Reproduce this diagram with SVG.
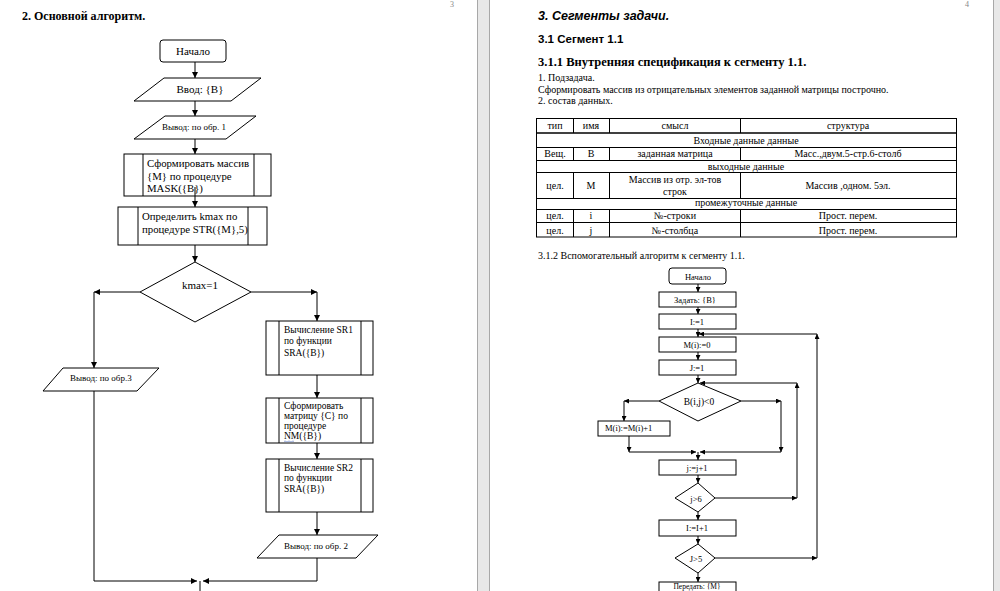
<svg xmlns="http://www.w3.org/2000/svg" width="1000" height="591" viewBox="0 0 1000 591">
<style>
.s{font-family:"Liberation Serif","Times New Roman",serif;fill:#000}
.a{font-family:"Liberation Sans",Arial,sans-serif;fill:#000}
.sh{fill:#fff;stroke:#000;stroke-width:1}
.ln{fill:none;stroke:#000;stroke-width:1}
.c{text-anchor:middle}
.pn{font-family:"Liberation Serif",serif;font-size:8px;fill:#888}
</style>
<defs>
<marker id="ah" viewBox="0 0 10 10" refX="10" refY="5" markerWidth="6" markerHeight="6" markerUnits="userSpaceOnUse" orient="auto"><path d="M0,0 L10,5 L0,10 z" fill="#000"/></marker>
<marker id="as" viewBox="0 0 10 10" refX="10" refY="5" markerWidth="5" markerHeight="5" markerUnits="userSpaceOnUse" orient="auto"><path d="M0,0 L10,5 L0,10 z" fill="#000"/></marker>
</defs>
<rect x="0" y="0" width="1000" height="591" fill="#fff"/>
<rect x="477" y="0" width="13" height="591" fill="#e8e8e8"/>
<line x1="477.5" y1="0" x2="477.5" y2="591" stroke="#a8a8a8"/>
<line x1="489.5" y1="0" x2="489.5" y2="591" stroke="#a8a8a8"/>
<rect x="993" y="0" width="7" height="591" fill="#e8e8e8"/>
<line x1="993.5" y1="0" x2="993.5" y2="591" stroke="#a8a8a8"/>
<text class="pn" x="450" y="7">3</text>
<text class="pn" x="965" y="7">4</text>

<!-- Left page -->
<text class="s" x="22" y="20" font-size="12" font-weight="bold">2. Основной алгоритм.</text>

<g id="n-start">
<rect class="sh" x="160" y="40" width="66" height="22" rx="3"/>
<text class="s c" x="193" y="55" font-size="11">Начало</text>
</g>
<g id="n-input">
<polygon class="sh" points="164,78 261,78 231,101 134,101"/>
<text class="s c" x="200" y="93" font-size="11">Ввод: {B}</text>
</g>
<g id="n-out1">
<polygon class="sh" points="165,116 256,116 226,139 134,139"/>
<text class="s c" x="194" y="130" font-size="9">Вывод: по обр. 1</text>
</g>
<g id="n-mask">
<rect class="sh" x="124" y="154" width="147" height="42"/>
<line class="ln" x1="143" y1="154" x2="143" y2="196"/>
<line class="ln" x1="254" y1="154" x2="254" y2="196"/>
<text class="s" font-size="10.8"><tspan x="147" y="167">Сформировать массив</tspan><tspan x="147" y="180">{M} по процедуре</tspan><tspan x="147" y="192">MASK({B})</tspan></text>
</g>
<g id="n-str">
<rect class="sh" x="118" y="207" width="149" height="38"/>
<line class="ln" x1="138" y1="207" x2="138" y2="245"/>
<line class="ln" x1="248" y1="207" x2="248" y2="245"/>
<text class="s" font-size="10.8"><tspan x="142" y="220">Определить kmax по</tspan><tspan x="142" y="233">процедуре STR({M},5)</tspan></text>
</g>
<g id="n-kmax">
<polygon class="sh" points="195,262 251,292 195,322 140,292"/>
<text class="s c" x="200" y="289" font-size="11">kmax=1</text>
</g>
<g id="n-out3">
<polygon class="sh" points="63,368 159,368 137,391 43,391"/>
<text class="s" x="70" y="381" font-size="9">Вывод: по обр.3</text>
</g>
<g id="n-sr1">
<rect class="sh" x="266" y="321" width="107" height="54"/>
<line class="ln" x1="279" y1="321" x2="279" y2="375"/>
<line class="ln" x1="361" y1="321" x2="361" y2="375"/>
<text class="s" font-size="9.5"><tspan x="284" y="333">Вычисление SR1</tspan><tspan x="284" y="344">по функции</tspan><tspan x="284" y="356">SRA({B})</tspan></text>
</g>
<g id="n-nm">
<rect class="sh" x="266" y="398" width="107" height="45"/>
<line class="ln" x1="279" y1="398" x2="279" y2="443"/>
<line class="ln" x1="361" y1="398" x2="361" y2="443"/>
<text class="s" font-size="9.5"><tspan x="284" y="409">Сформировать</tspan><tspan x="284" y="419">матрицу {C} по</tspan><tspan x="284" y="429">процедуре</tspan><tspan x="284" y="439">NM({B})</tspan></text>
<path d="M284,441.5 q1,-1 2,0 t2,0 t2,0 t2,0 t2,0" fill="none" stroke="#5070c0" stroke-width="0.6"/>
</g>
<g id="n-sr2">
<rect class="sh" x="266" y="459" width="107" height="53"/>
<line class="ln" x1="279" y1="459" x2="279" y2="512"/>
<line class="ln" x1="361" y1="459" x2="361" y2="512"/>
<text class="s" font-size="9.5"><tspan x="284" y="471">Вычисление SR2</tspan><tspan x="284" y="481">по функции</tspan><tspan x="284" y="492">SRA({B})</tspan></text>
</g>
<g id="n-out2">
<polygon class="sh" points="279,535 378,535 356,558 257,558"/>
<text class="s" x="284" y="549" font-size="9">Вывод: по обр. 2</text>
</g>

<g id="connectors-left" class="ln">
<path class="ln" d="M195,62 V78" marker-end="url(#ah)"/>
<path class="ln" d="M195,101 V116" marker-end="url(#ah)"/>
<path class="ln" d="M195,139 V154" marker-end="url(#ah)"/>
<path class="ln" d="M195,187 V207" marker-end="url(#ah)"/>
<path class="ln" d="M195,245 V262" marker-end="url(#ah)"/>
<path class="ln" d="M140,292 H94" marker-end="url(#ah)"/>
<path class="ln" d="M94,292 V368" marker-end="url(#ah)"/>
<path class="ln" d="M251,292 H317" marker-end="url(#ah)"/>
<path class="ln" d="M317,292 V321" marker-end="url(#ah)"/>
<path class="ln" d="M317,375 V398" marker-end="url(#ah)"/>
<path class="ln" d="M317,443 V459" marker-end="url(#ah)"/>
<path class="ln" d="M317,512 V535" marker-end="url(#ah)"/>
<path class="ln" d="M94,391 V581 H197" marker-end="url(#ah)"/>
<path class="ln" d="M317,558 V581 H203" marker-end="url(#ah)"/>
<path class="ln" d="M200,581 V591"/>
</g>

<!-- Right page -->
<text class="a" x="538" y="20" font-size="12.5" font-weight="bold" font-style="italic">3. Сегменты задачи.</text>
<text class="a" x="538" y="43" font-size="11.5" font-weight="bold">3.1 Сегмент 1.1</text>
<text class="s" x="538" y="66" font-size="12.5" font-weight="bold">3.1.1 Внутренняя спецификация к сегменту 1.1.</text>
<text class="s" x="538" y="81" font-size="10">1. Подзадача.</text>
<text class="s" x="538" y="93" font-size="10">Сформировать массив из отрицательных элементов заданной матрицы построчно.</text>
<text class="s" x="538" y="104" font-size="10">2. состав данных.</text>

<g id="table">
<rect x="536.5" y="118.5" width="420" height="118.5" fill="none" stroke="#000"/>
<g stroke="#000" stroke-width="1">
<line x1="536" y1="133" x2="957" y2="133" stroke-width="1.5"/>
<line x1="536" y1="147.5" x2="957" y2="147.5"/>
<line x1="536" y1="160.5" x2="957" y2="160.5"/>
<line x1="536" y1="172.5" x2="957" y2="172.5"/>
<line x1="536" y1="198.5" x2="957" y2="198.5"/>
<line x1="536" y1="209.5" x2="957" y2="209.5"/>
<line x1="536" y1="222.5" x2="957" y2="222.5"/>
<line x1="573.5" y1="118" x2="573.5" y2="133"/>
<line x1="609.5" y1="118" x2="609.5" y2="133"/>
<line x1="740.5" y1="118" x2="740.5" y2="133"/>
<line x1="573.5" y1="147" x2="573.5" y2="161"/>
<line x1="609.5" y1="147" x2="609.5" y2="161"/>
<line x1="740.5" y1="147" x2="740.5" y2="161"/>
<line x1="573.5" y1="172" x2="573.5" y2="199"/>
<line x1="609.5" y1="172" x2="609.5" y2="199"/>
<line x1="740.5" y1="172" x2="740.5" y2="199"/>
<line x1="573.5" y1="209" x2="573.5" y2="237"/>
<line x1="609.5" y1="209" x2="609.5" y2="237"/>
<line x1="740.5" y1="209" x2="740.5" y2="237"/>
</g>
<g class="s c" font-size="10">
<text x="555" y="129">тип</text>
<text x="591" y="129">имя</text>
<text x="675" y="129">смысл</text>
<text x="848" y="129">структура</text>
<text x="746" y="144">Входные данные данные</text>
<text x="555" y="157">Вещ.</text>
<text x="591" y="157">B</text>
<text x="675" y="157">заданная матрица</text>
<text x="848" y="157">Масс.,двум.5-стр.6-столб</text>
<text x="746" y="170">выходные данные</text>
<text x="555" y="189">цел.</text>
<text x="591" y="189">M</text>
<text x="675" y="183">Массив из  отр. эл-тов</text>
<text x="675" y="195">строк</text>
<text x="848" y="189">Массив ,одном. 5эл.</text>
<text x="746" y="206">промежуточные данные</text>
<text x="555" y="219">цел.</text>
<text x="591" y="219">i</text>
<text x="675" y="219">№-строки</text>
<text x="848" y="219">Прост. перем.</text>
<text x="555" y="234">цел.</text>
<text x="591" y="234">j</text>
<text x="675" y="234">№-столбца</text>
<text x="848" y="234">Прост. перем.</text>
</g>
</g>

<text class="s" x="538" y="259" font-size="10">3.1.2 Вспомогательный алгоритм к сегменту 1.1.</text>

<g id="r-start">
<rect class="sh" x="669" y="268" width="57" height="16" rx="3"/>
<text class="s c" x="698" y="280" font-size="8.5">Начало</text>
</g>
<g id="r-setb">
<rect class="sh" x="659" y="292" width="77" height="15"/>
<text class="s c" x="695" y="303" font-size="8.5">Задать: {B}</text>
</g>
<g id="r-i1">
<rect class="sh" x="659" y="314" width="77" height="15"/>
<text class="s c" x="697" y="325" font-size="8.5">I:=1</text>
</g>
<g id="r-m0">
<rect class="sh" x="659" y="337" width="77" height="15"/>
<text class="s c" x="697" y="348" font-size="8.5">M(i):=0</text>
</g>
<g id="r-j1">
<rect class="sh" x="659" y="360" width="77" height="15"/>
<text class="s c" x="697" y="371" font-size="8.5">J:=1</text>
</g>
<g id="r-cond">
<polygon class="sh" points="698,383 741,401 698,421 659,401"/>
<text class="s c" x="699" y="405" font-size="9.5">B(i,j)&lt;0</text>
</g>
<g id="r-inc">
<rect class="sh" x="598" y="421" width="72" height="15"/>
<text class="s" x="605" y="431" font-size="8.5">M(i):=M(i)+1</text>
</g>
<g id="r-jinc">
<rect class="sh" x="659" y="460" width="77" height="15"/>
<text class="s c" x="697" y="471" font-size="8.5">j:=j+1</text>
</g>
<g id="r-j6">
<polygon class="sh" points="698,483 715,498 698,512 675,498"/>
<text class="s c" x="696" y="502" font-size="8.5">j&gt;6</text>
</g>
<g id="r-iinc">
<rect class="sh" x="659" y="520" width="77" height="16"/>
<text class="s c" x="697" y="531" font-size="8.5">I:=I+1</text>
</g>
<g id="r-i5">
<polygon class="sh" points="698,544 715,558 698,573 675,558"/>
<text class="s c" x="696" y="562" font-size="8.5">J&gt;5</text>
</g>
<g id="r-out">
<rect class="sh" x="659" y="582" width="77" height="20"/>
<text class="s c" x="697" y="589" font-size="7.5">Передать: {M}</text>
</g>

<g id="connectors-right" class="ln">
<path class="ln" d="M698,284 V292" marker-end="url(#as)"/>
<path class="ln" d="M698,307 V314" marker-end="url(#as)"/>
<path class="ln" d="M698,329 V337" marker-end="url(#as)"/>
<path class="ln" d="M698,352 V360" marker-end="url(#as)"/>
<path class="ln" d="M698,375 V383" marker-end="url(#as)"/>
<path class="ln" d="M659,401 H624" marker-end="url(#as)"/>
<path class="ln" d="M624,401 V421" marker-end="url(#as)"/>
<path class="ln" d="M741,401 H781" marker-end="url(#as)"/>
<path class="ln" d="M781,401 V452" marker-end="url(#as)"/>
<path class="ln" d="M781,452 H700" marker-end="url(#as)"/>
<path class="ln" d="M629,436 V452" marker-end="url(#as)"/>
<path class="ln" d="M629,452 H696" marker-end="url(#as)"/>
<path class="ln" d="M698,452 V460" marker-end="url(#as)"/>
<path class="ln" d="M698,475 V483" marker-end="url(#as)"/>
<path class="ln" d="M715,498 H797" marker-end="url(#as)"/>
<path class="ln" d="M797,498 V383" marker-end="url(#as)"/>
<path class="ln" d="M797,383 H700" marker-end="url(#as)"/>
<path class="ln" d="M698,512 V520" marker-end="url(#as)"/>
<path class="ln" d="M698,536 V544" marker-end="url(#as)"/>
<path class="ln" d="M715,558 H817" marker-end="url(#as)"/>
<path class="ln" d="M817,558 V334" marker-end="url(#as)"/>
<path class="ln" d="M817,334 H699" marker-end="url(#as)"/>
<path class="ln" d="M698,573 V582" marker-end="url(#as)"/>
</g>
</svg>
